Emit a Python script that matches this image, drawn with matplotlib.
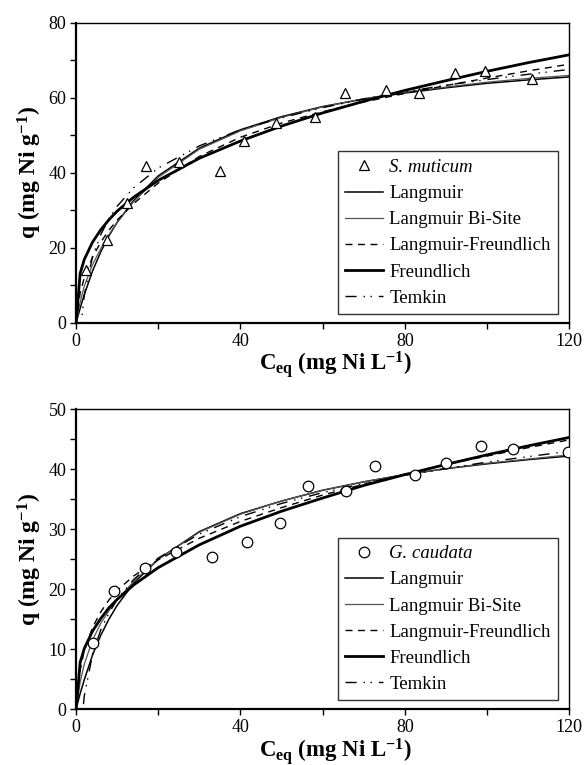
import matplotlib
matplotlib.use("Agg")
import matplotlib.pyplot as plt
from matplotlib.ticker import MultipleLocator

plt.rcParams['font.family'] = ['Liberation Serif', 'DejaVu Serif']
plt.rcParams['mathtext.fontset'] = 'custom'
plt.rcParams['mathtext.rm'] = 'Liberation Serif:bold'
plt.rcParams['mathtext.bf'] = 'Liberation Serif:bold'
plt.rcParams['mathtext.it'] = 'Liberation Serif:bold'

x_fit = [0, 1, 2, 4, 6, 8, 10, 14, 20, 30, 40, 50, 60, 70, 80, 90, 100, 110, 120]

# --- S. muticum ---
sm_ceq = [2.4, 7.6, 12.3, 17.0, 25.0, 35.0, 40.9, 48.7, 58.1, 65.5, 75.3, 83.5, 92.1, 99.6, 111.0]
sm_q = [14.1, 22.1, 32.1, 41.8, 42.8, 40.6, 48.5, 53.2, 54.9, 61.4, 62.0, 61.3, 66.6, 67.2, 65.1]
sm_langmuir = [0, 3.9, 7.5, 13.8, 18.9, 23.2, 26.8, 32.6, 39.2, 46.6, 51.5, 55.0, 57.7, 59.7, 61.3, 62.7, 63.9, 64.8, 65.6]
sm_bisite = [0, 5.5, 9.8, 15.5, 19.8, 23.5, 26.8, 32.3, 38.8, 46.3, 51.2, 54.8, 57.6, 59.8, 61.5, 62.9, 64.2, 65.2, 66.0]
sm_lf = [0, 8.0, 12.0, 17.5, 21.5, 24.7, 27.4, 31.8, 37.3, 44.4, 49.5, 53.3, 56.3, 58.9, 61.2, 63.3, 65.3, 67.2, 69.0]
sm_freundlich = [0, 13.2, 16.9, 21.5, 24.8, 27.5, 29.8, 33.5, 38.0, 43.9, 48.5, 52.5, 56.0, 59.1, 62.0, 64.6, 67.1, 69.4, 71.5]
sm_temkin = [-2.7, 7.4, 17.6, 23.5, 27.8, 31.1, 36.0, 41.3, 47.2, 51.5, 54.7, 57.4, 59.7, 61.6, 63.4, 64.9, 66.3, 67.6]

# --- G. caudata ---
gc_ceq = [4.1, 9.2, 16.8, 24.3, 33.0, 41.5, 49.7, 56.4, 65.6, 72.7, 82.5, 90.0, 98.6, 106.4, 119.8]
gc_q = [11.1, 19.7, 23.6, 26.2, 25.4, 27.9, 31.1, 37.2, 36.4, 40.6, 39.0, 41.0, 43.9, 43.3, 42.8]
gc_langmuir = [0, 2.6, 4.9, 9.0, 12.3, 15.0, 17.3, 21.0, 25.0, 29.6, 32.6, 34.7, 36.5, 37.9, 39.1, 40.1, 40.9, 41.6, 42.2]
gc_bisite = [0, 4.5, 7.5, 11.5, 14.3, 16.4, 18.2, 21.3, 25.0, 29.5, 32.5, 34.7, 36.5, 37.9, 39.1, 40.1, 41.0, 41.7, 42.4]
gc_lf = [0, 6.5, 9.8, 13.6, 16.2, 18.2, 19.8, 22.2, 24.9, 28.5, 31.3, 33.6, 35.7, 37.5, 39.2, 40.8, 42.2, 43.6, 44.9]
gc_freundlich = [0, 7.8, 10.1, 13.0, 15.1, 16.9, 18.3, 20.7, 23.6, 27.4, 30.5, 33.0, 35.2, 37.3, 39.1, 40.8, 42.4, 43.9, 45.3]
gc_temkin = [-4.7, 2.2, 9.1, 13.2, 16.0, 18.3, 21.6, 25.2, 29.2, 32.1, 34.3, 36.1, 37.6, 39.0, 40.1, 41.2, 42.1, 43.0]

temkin_style = (0, (8, 5, 1, 4, 1, 5))


def draw_panel(ax, ceq, q, marker, name, lang, bisite, lf, freund, temkin, ymax, ymajor):
    ax.plot(ceq, q, linestyle='none', marker=marker, markersize=7.2 if marker == '^' else 7.6,
            markerfacecolor='white', markeredgecolor='black', markeredgewidth=0.9,
            label=name, zorder=5)
    ax.plot(x_fit, lang, color='black', lw=1.1, label='Langmuir')
    ax.plot(x_fit, bisite, color='#555555', lw=0.9, label='Langmuir Bi-Site')
    ax.plot(x_fit, lf, color='black', lw=1.0, linestyle=(0, (5, 4)), label='Langmuir-Freundlich')
    ax.plot(x_fit, freund, color='black', lw=2.0, label='Freundlich')
    ax.plot(x_fit[1:], temkin, color='black', lw=1.0, linestyle=temkin_style, label='Temkin')

    ax.set_xlim(0, 120)
    ax.set_ylim(0, ymax)
    ax.xaxis.set_major_locator(MultipleLocator(40))
    ax.xaxis.set_minor_locator(MultipleLocator(20))
    ax.yaxis.set_major_locator(MultipleLocator(ymajor))
    ax.yaxis.set_minor_locator(MultipleLocator(ymajor / 2))
    ax.tick_params(which='both', direction='out', top=False, right=False, labelsize=13,
                   width=1.0, length=4, pad=3)
    for s in ax.spines.values():
        s.set_linewidth(1.0)
    ax.spines['left'].set_linewidth(1.6)
    ax.spines['bottom'].set_linewidth(1.6)

    ax.set_xlabel(r'C$_{\mathrm{eq}}$ (mg Ni L$^{\mathrm{-1}}$)', fontsize=16.5, fontweight='bold')
    ax.xaxis.set_label_coords(0.527, -0.088)
    ax.set_ylabel(r'q (mg Ni g$^{\mathrm{-1}}$)', fontsize=17, fontweight='bold', labelpad=3)

    leg = ax.legend(loc='lower right', bbox_to_anchor=(0.978, 0.029), borderaxespad=0,
                    fontsize=13.5, frameon=True, fancybox=False, edgecolor='black',
                    handlelength=2.0, handletextpad=0.35, labelspacing=0.48,
                    borderpad=0.4, numpoints=1)
    leg.get_frame().set_linewidth(1.0)
    leg.get_texts()[0].set_fontstyle('italic')


fig = plt.figure(figsize=(5.85, 7.65), dpi=100)
ax1 = fig.add_axes([0.130, 0.578, 0.843, 0.392])
ax2 = fig.add_axes([0.130, 0.073, 0.843, 0.392])

draw_panel(ax1, sm_ceq, sm_q, '^', 'S. muticum', sm_langmuir, sm_bisite, sm_lf,
           sm_freundlich, sm_temkin, 80, 20)
draw_panel(ax2, gc_ceq, gc_q, 'o', 'G. caudata', gc_langmuir, gc_bisite, gc_lf,
           gc_freundlich, gc_temkin, 50, 10)

fig.savefig('out.png', dpi=100)
